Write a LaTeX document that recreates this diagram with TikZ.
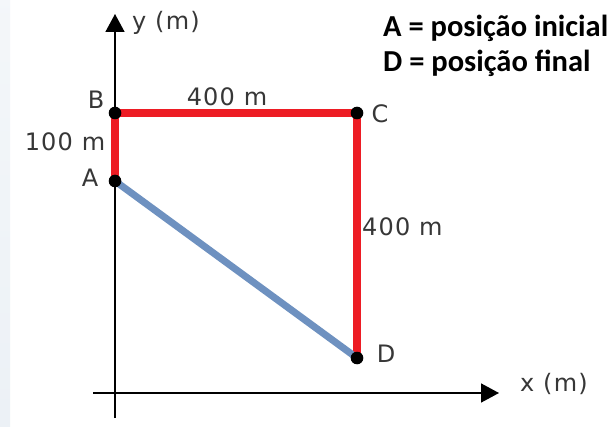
\documentclass[tikz,border=0pt]{standalone}
\usepackage{fontspec}
\setmainfont[LetterSpace=5]{DejaVu Sans}
\newfontfamily\legendfont{Carlito}
\usepackage{tikz}
\usetikzlibrary{calc,arrows.meta}

\definecolor{pathred}{RGB}{237,28,36}
\definecolor{pathblue}{RGB}{110,145,192}
\definecolor{lblgray}{RGB}{55,55,55}
\definecolor{stripcol}{RGB}{236,241,246}

\tikzset{
  lbl/.style={text=lblgray,font=\fontsize{24}{27}\selectfont,inner sep=0pt},
  legend/.style={font=\legendfont\bfseries\fontsize{30.5}{33}\selectfont,inner sep=0pt,anchor=base west},
  axis/.style={line width=1.6pt,-{Triangle[length=18pt,width=19pt]}},
  dot/.style={fill=black}
}

\begin{document}
\begin{tikzpicture}[x=1pt,y=-1pt]
        \useasboundingbox[fill=white] (0,0) rectangle (612,427);
        \shade[top color=white!40!stripcol,bottom color=stripcol] (0,0) rectangle (10,427);
        % axes
        \coordinate (ybot) at (115,418);
        \coordinate (ytop) at (115,14);
        \coordinate (xleft) at (93,393);
        \coordinate (xright) at (499,393);
        \draw[axis] (ybot) -- (ytop);
        \draw[axis] (xleft) -- (xright);
        % points
        \coordinate (A) at (115,181);
        \coordinate (B) at (115,113);
        \coordinate (C) at (357,113);
        \coordinate (D) at (357,358);
        \draw[pathred,line width=7.5pt] (A) -- (B) -- (C) -- (D);
        \draw[pathblue,line width=7pt] (A) -- (D);
        \foreach \p in {A,B,C,D} \fill[dot] (\p) circle (6.3);
        % labels
        \node[lbl,anchor=west] (ylab) at (132,23) {y (m)};
        \node[lbl,anchor=west] (xlab) at (520,384) {x (m)};
        \node[lbl] (lB) at ($(B)+(-19,-13)$) {B};
        \node[lbl] (lA) at ($(A)+(-25,-3)$) {A};
        \node[lbl] (lC) at ($(C)+(23,1)$) {C};
        \node[lbl] (lD) at ($(D)+(29,-4)$) {D};
        \node[lbl] (lBC) at (227,97) {400 m};
        \node[lbl] (lAB) at (65,142) {100 m};
        \node[lbl,anchor=west] (lCD) at (362,227) {400 m};
        % legend
        \node[legend] (leg1) at (383,37) {A = posição inicial};
        \node[legend] (leg2) at (383,72) {D = posição final};
      \end{tikzpicture}
\end{document}
